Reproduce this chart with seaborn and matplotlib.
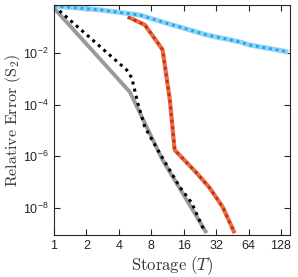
import numpy as np
import pandas as pd
import matplotlib
matplotlib.use("Agg")
import matplotlib.pyplot as plt
import seaborn as sns
from matplotlib.ticker import FixedLocator, FixedFormatter

# ---- data ----
gray_x = [1.0, 5.06, 10.2, 18.2, 26.1]
gray_logy = [-0.26, -3.51, -6.15, -7.89, -8.98]

black_x = [1.0, 4.74, 5.28, 6.0, 6.97, 9.2, 14.7, 19.0, 25.1]
black_logy = [-0.18, -2.66, -2.97, -3.94, -4.87, -5.76, -7.19, -7.81, -8.94]

orange_x = [4.85, 6.97, 9.2, 10.2, 11.9, 13.2, 21.1, 27.9, 36.8, 47.5]
orange_logy = [-0.60, -0.91, -1.61, -1.88, -3.82, -5.76, -6.65, -7.23, -7.97, -8.98]

blue_x = [1.0, 2.67, 6.27, 10.2, 26.1, 52.8, 65.4, 150.0]
blue_logy = [-0.18, -0.33, -0.53, -0.80, -1.30, -1.57, -1.69, -1.96]

xticks = [1, 2, 4, 8, 16, 32, 64, 128]
xticklabels = ["1", "2", "4", "8", "16", "32", "64", "128"]
yticks = [1e-8, 1e-6, 1e-4, 1e-2]
yticklabels = [r"$\mathregular{10^{-8}}$", r"$\mathregular{10^{-6}}$",
               r"$\mathregular{10^{-4}}$", r"$\mathregular{10^{-2}}$"]

def frame(x, logy):
    return pd.DataFrame({"x": x, "y": 10.0 ** np.array(logy)})

sns.set_theme(style="ticks")
plt.rcParams["font.family"] = ["Liberation Sans", "DejaVu Sans"]

fig = plt.figure(figsize=(2.98, 2.77), dpi=100)
ax = fig.add_axes([0.181, 0.152, 0.792, 0.830])

axc = "#262626"
dot = (0, (1, 1.4))

sns.lineplot(data=frame(gray_x, gray_logy), x="x", y="y", ax=ax, color="#9a9a9a",
             lw=2.8, solid_capstyle="butt", estimator=None, sort=False)
sns.lineplot(data=frame(black_x, black_logy), x="x", y="y", ax=ax, color="black",
             lw=2.2, linestyle=dot, estimator=None, sort=False)
sns.lineplot(data=frame(orange_x, orange_logy), x="x", y="y", ax=ax, color="#ec6a45",
             lw=3.0, solid_capstyle="butt", estimator=None, sort=False)
sns.lineplot(data=frame(orange_x, orange_logy), x="x", y="y", ax=ax, color="#b8360f",
             lw=2.0, linestyle=dot, estimator=None, sort=False)
sns.lineplot(data=frame(blue_x, blue_logy), x="x", y="y", ax=ax, color="#8fd3f7",
             lw=3.6, solid_capstyle="butt", estimator=None, sort=False)
sns.lineplot(data=frame(blue_x, blue_logy), x="x", y="y", ax=ax, color="#1fa6e0",
             lw=2.0, linestyle=dot, estimator=None, sort=False)

ax.set_xscale("log", base=2)
ax.set_yscale("log")
ax.set_xlim(1, 155)
ax.set_ylim(10 ** -9.05, 10 ** -0.14)

ax.xaxis.set_major_locator(FixedLocator(xticks))
ax.xaxis.set_major_formatter(FixedFormatter(xticklabels))
ax.xaxis.set_minor_locator(FixedLocator([]))
ax.yaxis.set_major_locator(FixedLocator(yticks))
ax.yaxis.set_major_formatter(FixedFormatter(yticklabels))
ax.yaxis.set_minor_locator(FixedLocator([]))

ax.tick_params(which="both", direction="in", top=True, right=True, length=4,
               width=0.8, color=axc, labelcolor=axc, labelsize=9, pad=4)
for s in ax.spines.values():
    s.set_visible(True)
    s.set_color(axc)
    s.set_linewidth(0.8)

xl = ax.set_xlabel(r"$\mathrm{Storage}\ (T)$", fontsize=12, color="#333333")
yl = ax.set_ylabel(r"$\mathrm{Relative\ Error}\ (\mathrm{S}_2)$", fontsize=11.5,
                   color="#333333")
xl.set_math_fontfamily("cm")
yl.set_math_fontfamily("cm")
ax.yaxis.set_label_coords(-0.133, 0.5)
ax.xaxis.set_label_coords(0.5, -0.085)
ax.grid(False)
ax.set_facecolor("white")
fig.patch.set_facecolor("white")

fig.savefig("out.png", dpi=100, facecolor="white")
